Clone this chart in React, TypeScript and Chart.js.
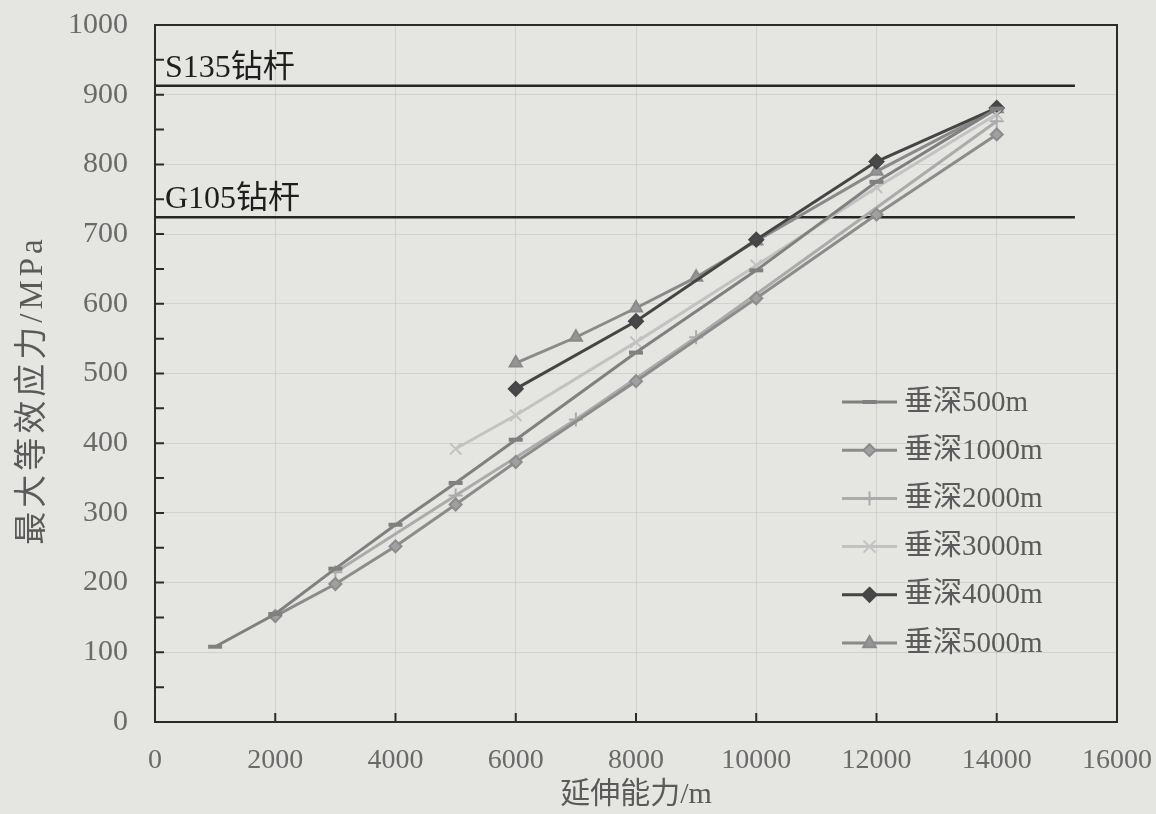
import React, { useEffect, useRef } from "react";
import { Chart, registerables } from "chart.js";

Chart.register(...registerables);

// ---------- data ----------
const seriesNames = ["垂深500m", "垂深1000m", "垂深2000m", "垂深3000m", "垂深4000m", "垂深5000m"];

const x500 = [1000, 2000, 3000, 4000, 5000, 6000, 8000, 10000, 12000, 14000];
const y500 = [108, 155, 220, 283, 343, 405, 530, 648, 775, 880];

const x1000 = [2000, 3000, 4000, 5000, 6000, 8000, 10000, 12000, 14000];
const y1000 = [152, 198, 252, 312, 373, 489, 608, 728, 843];

const x2000 = [3000, 5000, 7000, 9000, 14000];
const y2000 = [215, 325, 434, 552, 862];

const x3000 = [5000, 6000, 8000, 10000, 12000, 14000];
const y3000 = [392, 440, 545, 655, 767, 872];

const x4000 = [6000, 8000, 10000, 12000, 14000];
const y4000 = [478, 575, 692, 804, 881];

const x5000 = [6000, 7000, 8000, 9000, 10000, 12000, 14000];
const y5000 = [515, 552, 594, 638, 690, 790, 880];

const limitNames = ["S135钻杆", "G105钻杆"];
const limitValues = [913, 724];
const limitXRange = [0, 15300];

const xTitle = "延伸能力/m";
const yTitle = "最大等效应力/MPa";
const xMin = 0, xMax = 16000, xStep = 2000;
const yMin = 0, yMax = 1000, yStep = 100, yMinorStep = 50;

// ---------- styles ----------
const FONT = "'Liberation Serif', 'Noto Sans CJK SC', serif";
const BG = "#e5e5e2";

const styles = [
  { color: "#808080", fill: "#808080", point: "line", radius: 7, pw: 4 },
  { color: "#8c8c8c", fill: "#a0a0a0", point: "rectRot", radius: 6, pw: 2 },
  { color: "#ababab", fill: "#ababab", point: "cross", radius: 7, pw: 2 },
  { color: "#c2c2c2", fill: "#c2c2c2", point: "crossRot", radius: 8, pw: 2 },
  { color: "#454545", fill: "#484848", point: "rectRot", radius: 7, pw: 2 },
  { color: "#8a8a8a", fill: "#959595", point: "triangle", radius: 7, pw: 2 },
];

const xs = [x500, x1000, x2000, x3000, x4000, x5000];
const ys = [y500, y1000, y2000, y3000, y4000, y5000];

function drawMarker(ctx: CanvasRenderingContext2D, style: string, cx: number, cy: number, r: number, fill: string, stroke: string, lw: number) {
  ctx.save();
  ctx.fillStyle = fill;
  ctx.strokeStyle = stroke;
  ctx.lineWidth = lw;
  ctx.beginPath();
  if (style === "rectRot") {
    ctx.moveTo(cx, cy - r); ctx.lineTo(cx + r, cy); ctx.lineTo(cx, cy + r); ctx.lineTo(cx - r, cy); ctx.closePath();
    ctx.fill(); ctx.stroke();
  } else if (style === "triangle") {
    ctx.moveTo(cx, cy - r); ctx.lineTo(cx + r * 0.9, cy + r * 0.6); ctx.lineTo(cx - r * 0.9, cy + r * 0.6); ctx.closePath();
    ctx.fill(); ctx.stroke();
  } else if (style === "cross") {
    ctx.moveTo(cx, cy - r); ctx.lineTo(cx, cy + r); ctx.moveTo(cx - r, cy); ctx.lineTo(cx + r, cy); ctx.stroke();
  } else if (style === "crossRot") {
    const d = r * 0.75;
    ctx.moveTo(cx - d, cy - d); ctx.lineTo(cx + d, cy + d); ctx.moveTo(cx + d, cy - d); ctx.lineTo(cx - d, cy + d); ctx.stroke();
  } else {
    ctx.moveTo(cx - r, cy); ctx.lineTo(cx + r, cy); ctx.stroke();
  }
  ctx.restore();
}

const decorPlugin = {
  id: "decor",
  beforeDraw(chart: any) {
    const { ctx, width, height } = chart;
    ctx.save();
    ctx.fillStyle = BG;
    ctx.fillRect(0, 0, width, height);
    ctx.restore();
  },
  afterDatasetsDraw(chart: any) {
    const { ctx, chartArea: a, scales } = chart;
    const sx = scales.x, sy = scales.y;
    ctx.save();
    // frame
    ctx.strokeStyle = "#2b2b2b";
    ctx.lineWidth = 2;
    ctx.strokeRect(a.left, a.top, a.right - a.left, a.bottom - a.top);
    // inward ticks
    ctx.lineWidth = 2;
    ctx.beginPath();
    for (let v = yMin; v <= yMax; v += yMinorStep) {
      const py = sy.getPixelForValue(v);
      ctx.moveTo(a.left, py); ctx.lineTo(a.left + 9, py);
    }
    for (let v = xMin; v <= xMax; v += xStep) {
      const px = sx.getPixelForValue(v);
      ctx.moveTo(px, a.bottom); ctx.lineTo(px, a.bottom - 9);
    }
    ctx.stroke();
    // tick labels
    ctx.fillStyle = "#6a6a6a";
    ctx.font = `30px ${FONT}`;
    ctx.textAlign = "right";
    ctx.textBaseline = "middle";
    for (let v = yMin; v <= yMax; v += yStep) {
      ctx.fillText(String(v), a.left - 27, sy.getPixelForValue(v));
    }
    ctx.font = `28px ${FONT}`;
    ctx.textAlign = "center";
    for (let v = xMin; v <= xMax; v += xStep) {
      ctx.fillText(String(v), sx.getPixelForValue(v), a.bottom + 39);
    }
    // limit labels
    ctx.fillStyle = "#1e1e1e";
    ctx.font = `32px ${FONT}`;
    ctx.textAlign = "left";
    ctx.textBaseline = "alphabetic";
    limitNames.forEach((n, i) => {
      ctx.fillText(n, a.left + 10, sy.getPixelForValue(limitValues[i]) - 9);
    });
    // legend
    const lx0 = a.right - 275, lx1 = a.right - 220, ly0 = a.top + 377, dy = 48.2;
    ctx.font = `29px ${FONT}`;
    ctx.textBaseline = "middle";
    seriesNames.forEach((n, i) => {
      const st = styles[i];
      const yy = ly0 + i * dy;
      ctx.strokeStyle = st.color;
      ctx.lineWidth = 3;
      ctx.beginPath(); ctx.moveTo(lx0, yy); ctx.lineTo(lx1, yy); ctx.stroke();
      drawMarker(ctx, st.point, (lx0 + lx1) / 2, yy, st.radius, st.fill, st.point === "line" || st.point === "cross" || st.point === "crossRot" ? st.fill : st.color, st.pw);
      ctx.fillStyle = "#5a5a5a";
      ctx.fillText(n, lx1 + 7, yy + 1);
    });
    // axis titles
    ctx.fillStyle = "#5a5a5a";
    ctx.font = `30px ${FONT}`;
    ctx.textAlign = "center";
    ctx.textBaseline = "middle";
    ctx.fillText(xTitle, (a.left + a.right) / 2, 795);
    ctx.save();
    ctx.translate(33, 390);
    ctx.rotate(-Math.PI / 2);
    ctx.font = `33px ${FONT}`;
    try { (ctx as any).letterSpacing = "4px"; } catch (e) {}
    ctx.fillText(yTitle, 0, 0);
    ctx.restore();
    ctx.restore();
  },
};

export default function App() {
  const ref = useRef<HTMLCanvasElement | null>(null);
  useEffect(() => {
    if (!ref.current) return;
    const datasets: any[] = seriesNames.map((name, i) => ({
      label: name,
      data: xs[i].map((x, k) => ({ x, y: ys[i][k] })),
      borderColor: styles[i].color,
      backgroundColor: styles[i].fill,
      pointBorderColor: styles[i].point === "rectRot" || styles[i].point === "triangle" ? styles[i].color : styles[i].fill,
      pointBackgroundColor: styles[i].fill,
      pointStyle: styles[i].point,
      pointRadius: styles[i].radius,
      pointBorderWidth: styles[i].pw,
      borderWidth: 3,
      tension: 0,
      fill: false,
    }));
    limitNames.forEach((n, i) => {
      datasets.push({
        label: n,
        data: limitXRange.map((x) => ({ x, y: limitValues[i] })),
        borderColor: "#262626",
        borderWidth: 2.5,
        pointRadius: 0,
        fill: false,
      });
    });
    const chart = new Chart(ref.current, {
      type: "line",
      data: { datasets },
      plugins: [decorPlugin],
      options: {
        responsive: false,
        animation: false,
        layout: { padding: { top: 25, right: 39, left: 0, bottom: 0 } },
        plugins: { legend: { display: false }, tooltip: { enabled: false }, title: { display: false } },
        scales: {
          x: {
            type: "linear",
            min: xMin,
            max: xMax,
            ticks: { stepSize: xStep, display: false },
            grid: { color: "rgba(150,150,150,0.25)", lineWidth: 1, drawTicks: false },
            border: { display: false },
            afterFit: (s: any) => { s.height = 92; },
          },
          y: {
            type: "linear",
            min: yMin,
            max: yMax,
            ticks: { stepSize: yStep, display: false },
            grid: { color: "rgba(150,150,150,0.25)", lineWidth: 1, drawTicks: false },
            border: { display: false },
            afterFit: (s: any) => { s.width = 155; },
          },
        },
      },
    });
    return () => chart.destroy();
  }, []);
  return (
    <div style={{ position: "fixed", left: 0, top: 0, width: 1156, height: 814, background: BG }}>
      <canvas ref={ref} width={1156} height={814} style={{ display: "block" }} />
    </div>
  );
}
